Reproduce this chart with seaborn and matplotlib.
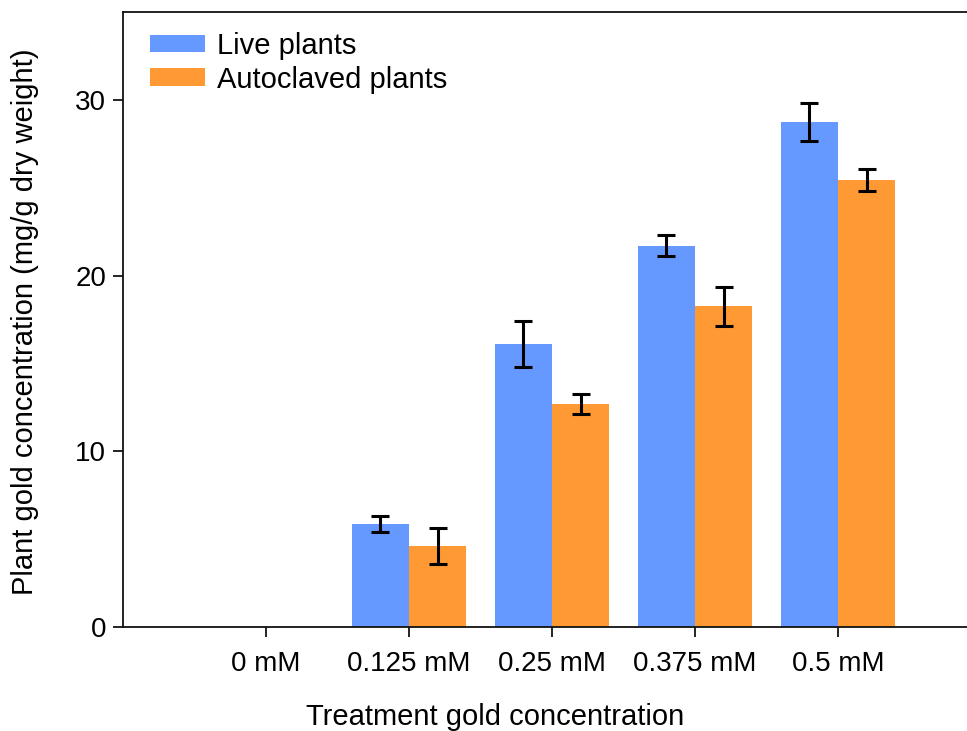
import numpy as np
import pandas as pd
import matplotlib
matplotlib.use("Agg")
import matplotlib.pyplot as plt
import seaborn as sns

categories = ["0 mM", "0.125 mM", "0.25 mM", "0.375 mM", "0.5 mM"]
live_values = [0.0, 5.85, 16.1, 21.7, 28.75]
live_err = [0.0, 0.47, 1.3, 0.6, 1.07]
auto_values = [0.0, 4.6, 12.68, 18.25, 25.45]
auto_err = [0.0, 1.03, 0.58, 1.1, 0.62]
series_names = ["Live plants", "Autoclaved plants"]
colors = ["#6699FF", "#FF9933"]

df = pd.DataFrame({
    "conc": categories * 2,
    "value": live_values + auto_values,
    "group": [series_names[0]] * 5 + [series_names[1]] * 5,
})

sns.set_style("white")
plt.rcParams["font.family"] = ["Liberation Sans", "DejaVu Sans"]
plt.rcParams["text.color"] = "black"
plt.rcParams["axes.labelcolor"] = "black"
plt.rcParams["xtick.color"] = "black"
plt.rcParams["ytick.color"] = "black"

fig = plt.figure(figsize=(9.67, 7.31), dpi=100)
ax = fig.add_axes([123 / 967, 104 / 731, 858 / 967, 615 / 731])

sns.barplot(data=df, x="conc", y="value", hue="group", order=categories,
            hue_order=series_names, palette=colors, width=0.8,
            errorbar=None, saturation=1, ax=ax, edgecolor="none")

for cont, errs in zip(ax.containers, [live_err, auto_err]):
    for patch, e in zip(cont.patches, errs):
        if e > 0:
            xc = patch.get_x() + patch.get_width() / 2
            ax.errorbar(xc, patch.get_height(), yerr=e, fmt="none",
                        ecolor="black", elinewidth=2.2, capsize=6.5,
                        capthick=2.2)

ax.set_xlim(-1, 5)
ax.set_ylim(0, 35)
ax.set_yticks([0, 10, 20, 30])
ax.set_xlabel("Treatment gold concentration", fontsize=21)
ax.xaxis.set_label_coords(0.434, -0.123)
ax.set_ylabel("Plant gold concentration (mg/g dry weight)", fontsize=21)
ax.yaxis.set_label_coords(-0.098, 0.497)
ax.tick_params(axis="both", labelsize=20, length=7, width=1.2,
               color="black", labelcolor="black", direction="out",
               bottom=True, left=True)
ax.tick_params(axis="x", pad=10)
ax.tick_params(axis="y", pad=5)

for side in ["left", "bottom", "top"]:
    ax.spines[side].set_visible(True)
    ax.spines[side].set_color("#111111")
    ax.spines[side].set_linewidth(1.3)
ax.spines["right"].set_visible(False)

leg = ax.legend(loc="upper left", bbox_to_anchor=(0.0315, 0.968),
                frameon=False, fontsize=21, handlelength=1.9,
                handleheight=0.55, handletextpad=0.4, labelspacing=0.2,
                borderpad=0, borderaxespad=0)

fig.savefig("out.png", dpi=100)
